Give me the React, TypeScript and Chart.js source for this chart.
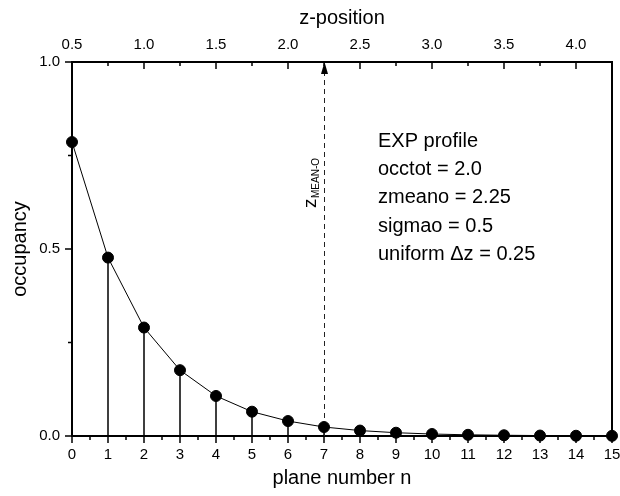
import React, { useEffect, useRef } from 'react';
import { Chart, registerables } from 'chart.js';

Chart.register(...registerables);

// ---- data ----
const planeNumbers = [0, 1, 2, 3, 4, 5, 6, 7, 8, 9, 10, 11, 12, 13, 14, 15];
const occupancy = [0.786, 0.477, 0.29, 0.176, 0.107, 0.065, 0.04, 0.024, 0.0145, 0.0088, 0.0053, 0.0032, 0.002, 0.0012, 0.0007, 0.0004];
const planeTicks = [0, 1, 2, 3, 4, 5, 6, 7, 8, 9, 10, 11, 12, 13, 14, 15];
const zTicks = [0.5, 1.0, 1.5, 2.0, 2.5, 3.0, 3.5, 4.0];
const occupancyTicks = [0, 0.5, 1.0];
const zMin = 0.5;
const zMax = 4.25;
const zMeanO = 2.25;
const infoLines = ['EXP profile', 'occtot = 2.0', 'zmeano = 2.25', 'sigmao = 0.5', 'uniform \u0394z = 0.25'];

const FAMILY = '"Liberation Sans", Arial, Helvetica, sans-serif';

export default function App() {
  const ref = useRef<HTMLCanvasElement | null>(null);

  useEffect(() => {
    document.body.style.margin = '0';
    const canvas = ref.current;
    if (!canvas) return;

    const decor = {
      id: 'decor',
      beforeDatasetsDraw(chart: any) {
        const { ctx, chartArea: a, scales } = chart;
        const xs = scales.x;
        const x2 = scales.x2;
        const ys = scales.y;
        ctx.save();
        ctx.strokeStyle = '#000';
        ctx.fillStyle = '#000';
        ctx.setLineDash([]);

        // tick marks
        ctx.lineWidth = 1.5;
        ctx.beginPath();
        for (let n = 0; n <= 15.0001; n += 0.5) {
          const px = xs.getPixelForValue(n);
          const major = Math.abs(n - Math.round(n)) < 1e-6;
          ctx.moveTo(px, a.bottom);
          ctx.lineTo(px, a.bottom + (major ? 7 : 4));
        }
        for (let v = 0; v <= 1.0001; v += 0.25) {
          const py = ys.getPixelForValue(v);
          const major = Math.abs(v * 2 - Math.round(v * 2)) < 1e-6;
          ctx.moveTo(a.left, py);
          ctx.lineTo(a.left - (major ? 7 : 4), py);
        }
        for (let z = zMin; z <= zMax + 0.0001; z += 0.25) {
          const px = x2.getPixelForValue(z);
          const major = Math.abs(z * 2 - Math.round(z * 2)) < 1e-6;
          ctx.moveTo(px, a.top);
          ctx.lineTo(px, a.top + (major ? 7 : 4));
        }
        ctx.stroke();

        // frame
        ctx.lineWidth = 2;
        ctx.strokeRect(a.left, a.top, a.right - a.left, a.bottom - a.top);

        // stems
        ctx.lineWidth = 1.5;
        ctx.beginPath();
        const y0 = ys.getPixelForValue(0);
        for (let i = 1; i < planeNumbers.length; i++) {
          const px = xs.getPixelForValue(planeNumbers[i]);
          ctx.moveTo(px, y0);
          ctx.lineTo(px, ys.getPixelForValue(occupancy[i]));
        }
        ctx.stroke();

        // dashed arrow at zmean
        const dx = Math.round(x2.getPixelForValue(zMeanO)) + 0.5;
        const yTop = ys.getPixelForValue(1.0);
        ctx.strokeStyle = '#222';
        ctx.lineWidth = 1;
        ctx.setLineDash([5, 4]);
        ctx.beginPath();
        ctx.moveTo(dx, y0);
        ctx.lineTo(dx, yTop + 10);
        ctx.stroke();
        ctx.setLineDash([]);
        ctx.fillStyle = '#000';
        ctx.beginPath();
        ctx.moveTo(dx, yTop);
        ctx.lineTo(dx - 3.5, yTop + 12);
        ctx.lineTo(dx + 3.5, yTop + 12);
        ctx.closePath();
        ctx.fill();

        // z_MEAN-O label (rotated)
        ctx.save();
        ctx.translate(dx - 9, 208);
        ctx.rotate(-Math.PI / 2);
        ctx.textBaseline = 'alphabetic';
        ctx.textAlign = 'left';
        ctx.font = `19px ${FAMILY}`;
        ctx.fillText('z', 0, 0);
        const zw = ctx.measureText('z').width;
        ctx.font = `10px ${FAMILY}`;
        ctx.fillText('MEAN-O', zw + 0.5, 3);
        ctx.restore();

        // info text
        ctx.font = `20px ${FAMILY}`;
        ctx.textAlign = 'left';
        ctx.textBaseline = 'alphabetic';
        infoLines.forEach((t, i) => {
          ctx.fillText(t, 378, 147 + i * 28.2);
        });

        ctx.restore();
      },
    };

    const tickFont = { family: FAMILY, size: 15 };
    const titleFont = { family: FAMILY, size: 20 };

    const chart = new Chart(canvas, {
      type: 'line',
      data: {
        datasets: [
          {
            data: planeNumbers.map((n, i) => ({ x: n, y: occupancy[i] })),
            borderColor: '#000',
            borderWidth: 1,
            pointRadius: 5.5,
            pointBackgroundColor: '#000',
            pointBorderColor: '#000',
            pointBorderWidth: 1,
            tension: 0,
            clip: false,
            xAxisID: 'x',
            yAxisID: 'y',
          },
        ],
      },
      options: {
        responsive: false,
        animation: false,
        events: [],
        layout: { padding: { left: 0, right: 8, top: 0, bottom: 0 } },
        plugins: { legend: { display: false }, tooltip: { enabled: false } },
        scales: {
          x: {
            type: 'linear',
            position: 'bottom',
            min: 0,
            max: 15,
            offset: false,
            grid: { display: false, drawTicks: false },
            border: { display: false },
            afterBuildTicks: (s: any) => {
              s.ticks = planeTicks.map((v) => ({ value: v }));
            },
            ticks: {
              font: tickFont,
              color: '#000',
              padding: 10,
              maxRotation: 0,
              autoSkip: false,
              callback: (v: any) => String(v),
            },
            title: { display: true, text: 'plane number n', font: titleFont, color: '#000', padding: { top: 0, bottom: 6 } },
            afterFit: (s: any) => {
              s.height = 60;
              s.paddingLeft = 0;
              s.paddingRight = 0;
            },
          },
          x2: {
            type: 'linear',
            position: 'top',
            min: zMin,
            max: zMax,
            offset: false,
            grid: { display: false, drawTicks: false },
            border: { display: false },
            afterBuildTicks: (s: any) => {
              s.ticks = zTicks.map((v) => ({ value: v }));
            },
            ticks: {
              font: tickFont,
              color: '#000',
              padding: 8,
              maxRotation: 0,
              autoSkip: false,
              callback: (v: any) => Number(v).toFixed(1),
            },
            title: { display: true, text: 'z-position', font: titleFont, color: '#000', padding: { top: 6, bottom: 0 } },
            afterFit: (s: any) => {
              s.height = 62;
              s.paddingLeft = 0;
              s.paddingRight = 0;
            },
          },
          y: {
            type: 'linear',
            position: 'left',
            min: 0,
            max: 1,
            grid: { display: false, drawTicks: false },
            border: { display: false },
            afterBuildTicks: (s: any) => {
              s.ticks = occupancyTicks.map((v) => ({ value: v }));
            },
            ticks: {
              font: tickFont,
              color: '#000',
              padding: 12,
              callback: (v: any) => Number(v).toFixed(1),
            },
            title: { display: true, text: 'occupancy', font: titleFont, color: '#000', padding: { top: 8, bottom: 0 } },
            afterFit: (s: any) => {
              s.width = 72;
              s.paddingTop = 0;
              s.paddingBottom = 0;
            },
          },
        },
      },
      plugins: [decor],
    } as any);

    return () => chart.destroy();
  }, []);

  return (
    <div style={{ position: 'absolute', left: 0, top: 0, width: 620, height: 496 }}>
      <canvas ref={ref} width={620} height={496} style={{ display: 'block', width: 620, height: 496 }} />
    </div>
  );
}
